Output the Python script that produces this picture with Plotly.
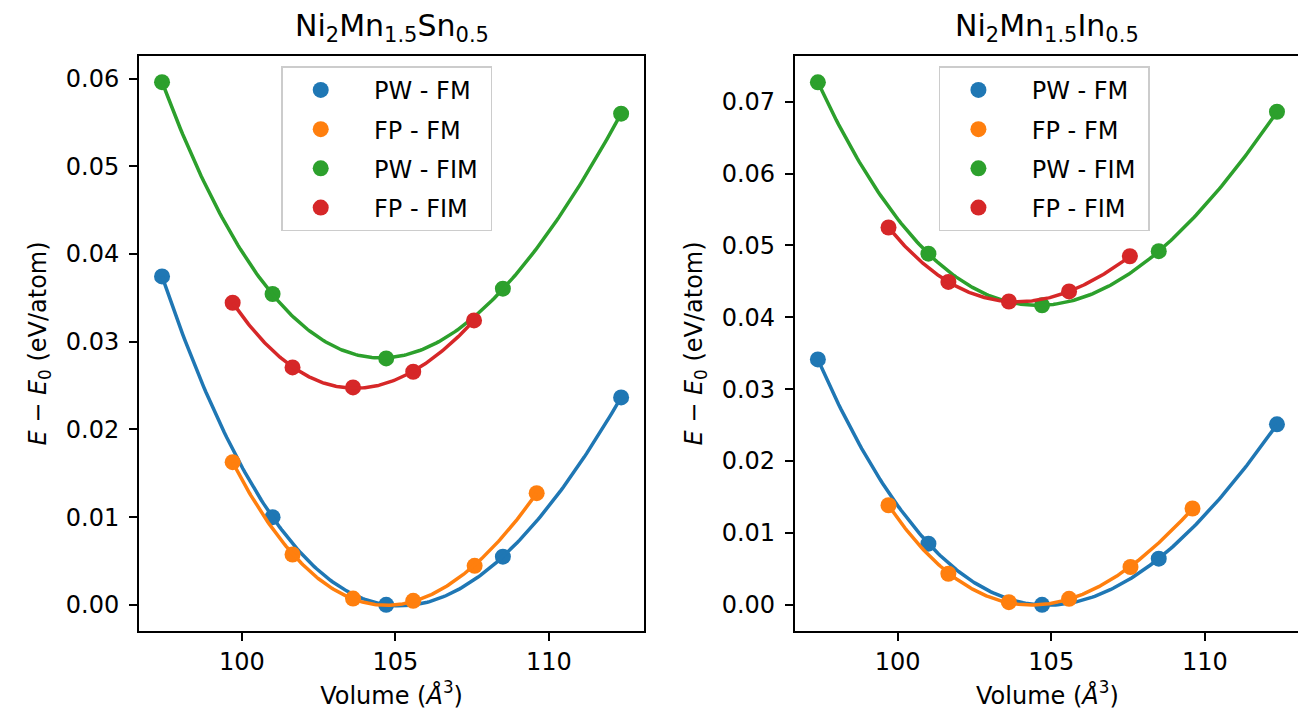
import numpy as np
import plotly.graph_objects as go

# ---------------- data ----------------
V_pw = [97.4, 101.0, 104.7, 108.5, 112.35]
V_fp = [99.7, 101.65, 103.62, 105.58, 107.58, 109.6]
V_fp_fim = [99.7, 101.65, 103.62, 105.58, 107.56]

# Ni2Mn1.5Sn0.5 (left)
sn_pw_fm = [0.03745, 0.0100, 0.0000, 0.0055, 0.02365]
sn_fp_fm = [0.01627, 0.00574, 0.00072, 0.00046, 0.00445, 0.01274]
sn_pw_fim = [0.0596, 0.03544, 0.0281, 0.03605, 0.0560]
sn_fp_fim = [0.03445, 0.02707, 0.02479, 0.02658, 0.03243]

# Ni2Mn1.5In0.5 (right)
in_pw_fm = [0.03414, 0.00851, 0.0, 0.00642, 0.02512]
in_fp_fm = [0.01386, 0.00433, 0.00037, 0.00084, 0.00526, 0.0134]
in_pw_fim = [0.0727, 0.04886, 0.04167, 0.0492, 0.0686]
in_fp_fim = [0.0525, 0.04493, 0.0422, 0.0436, 0.0485]

labels = ["PW - FM", "FP - FM", "PW - FIM", "FP - FIM"]
colors = ["#1f77b4", "#ff7f0e", "#2ca02c", "#d62728"]

left_series = [(V_pw, sn_pw_fm), (V_fp, sn_fp_fm), (V_pw, sn_pw_fim), (V_fp_fim, sn_fp_fim)]
right_series = [(V_pw, in_pw_fm), (V_fp, in_fp_fm), (V_pw, in_pw_fim), (V_fp_fim, in_fp_fim)]

FONT = "DejaVu Sans"
TICK = 24

fig = go.Figure()


def add_panel(series, xa, ya, legend, tag):
    for (v, e), lab, col in zip(series, labels, colors):
        coef = np.polyfit(v, e, 3)
        vv = np.linspace(min(v), max(v), 200)
        fig.add_trace(go.Scatter(
            x=v, y=e, mode="markers", name="\u00a0\u00a0" + lab + "\u00a0",
            marker=dict(color=col, size=16),
            xaxis=xa, yaxis=ya, legend=legend,
            legendgroup=tag + lab, showlegend=True))
        fig.add_trace(go.Scatter(
            x=vv, y=np.polyval(coef, vv), mode="lines",
            line=dict(color=col, width=3.5),
            xaxis=xa, yaxis=ya, legendgroup=tag + lab,
            showlegend=False, hoverinfo="skip"))


add_panel(left_series, "x", "y", "legend", "L")
add_panel(right_series, "x2", "y2", "legend2", "R")

axis_common = dict(
    showline=True, linecolor="black", linewidth=1.9, mirror=True,
    ticks="outside", ticklen=8, tickwidth=1.9, tickcolor="black",
    showgrid=False, zeroline=False,
    tickfont=dict(family=FONT, size=TICK, color="black"),
    title_font=dict(family=FONT, size=TICK, color="black"),
)

xtitle = "Volume (<i>Å</i><sup>3</sup>)"
ytitle = "<i>E</i> − <i>E</i><sub>0</sub> (eV/atom)"

legend_common = dict(
    xanchor="left", yanchor="top", y=0.982,
    bgcolor="rgba(255,255,255,0.85)", bordercolor="#cccccc", borderwidth=1.5,
    font=dict(family=FONT, size=TICK, color="black"), tracegroupgap=5, itemwidth=66,
)

fig.update_layout(
    width=1306, height=720,
    margin=dict(l=131, r=12, t=48, b=97),
    paper_bgcolor="white", plot_bgcolor="white",
    font=dict(family=FONT, color="black"),
    xaxis=dict(domain=[0, 0.4351], range=[96.65, 113.1], tickvals=[100, 105, 110],
               title=dict(text=xtitle, standoff=12), **axis_common),
    yaxis=dict(range=[-0.00298, 0.06258], tickvals=[0, 0.01, 0.02, 0.03, 0.04, 0.05, 0.06],
               tickformat=".2f", ticklabelstandoff=5,
               title=dict(text=ytitle, standoff=12), **axis_common),
    xaxis2=dict(domain=[0.5649, 1], range=[96.65, 113.1], tickvals=[100, 105, 110],
                anchor="y2", title=dict(text=xtitle, standoff=12), **axis_common),
    yaxis2=dict(range=[-0.00364, 0.07636], tickvals=[0, 0.01, 0.02, 0.03, 0.04, 0.05, 0.06, 0.07],
                tickformat=".2f", anchor="x2", ticklabelstandoff=5,
                title=dict(text=ytitle, standoff=12), **axis_common),
    legend=dict(x=0.1225, **legend_common),
    legend2=dict(x=0.689, **legend_common),
    showlegend=True,
)

fig.add_annotation(text="Ni<sub>2</sub>Mn<sub>1.5</sub>Sn<sub>0.5</sub>", xref="paper", yref="paper",
                   x=0.4351 / 2, y=1, yanchor="bottom", xanchor="center", yshift=7,
                   showarrow=False, font=dict(family=FONT, size=30, color="black"))
fig.add_annotation(text="Ni<sub>2</sub>Mn<sub>1.5</sub>In<sub>0.5</sub>", xref="paper", yref="paper",
                   x=(0.5649 + 1) / 2, y=1, yanchor="bottom", xanchor="center", yshift=7,
                   showarrow=False, font=dict(family=FONT, size=30, color="black"))

fig.write_html("out.html")
